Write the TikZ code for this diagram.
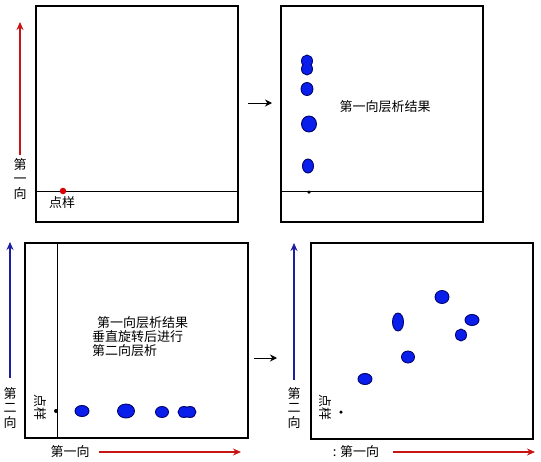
\documentclass[tikz,border=0pt]{standalone}
\usepackage{fontspec}
\setmainfont{Noto Sans CJK SC}
\usetikzlibrary{arrows.meta,shapes.geometric}
\definecolor{axred}{RGB}{200,20,20}
\definecolor{axblue}{RGB}{30,30,160}
\definecolor{blobfill}{RGB}{10,30,235}
\definecolor{blobline}{RGB}{0,0,110}
\tikzset{
  frame/.style={draw=black, line width=2pt},
  thin/.style={draw=black, line width=1pt},
  blob/.style={ellipse, fill=blobfill, draw=blobline, line width=0.9pt, inner sep=0pt},
  blobin/.style={ellipse, fill=blobfill, inner sep=0pt},
  redax/.style={draw=axred, line width=1.2pt, -{Stealth[length=8pt,width=7pt]}},
  blueax/.style={draw=axblue, line width=1.2pt, -{Stealth[length=8pt,width=7pt]}},
  steparrow/.style={draw=black, line width=1pt, -{Stealth[length=7pt,width=7pt]}},
  lbl/.style={inner sep=0pt, font=\fontsize{13}{14}\selectfont},
  vlbl/.style={inner sep=0pt, align=center, font=\fontsize{13}{14.2}\selectfont},
  dot/.style={circle, fill=black, inner sep=0pt, minimum size=4pt},
}
\begin{document}
\begin{tikzpicture}[x=1pt,y=-1pt]
\path[use as bounding box, fill=white] (0,0) rectangle (541,461);
% ---------- panel 1
\node[frame, minimum width=202pt, minimum height=216pt, inner sep=0pt] (p1) at (137,114) {};
\coordinate (l1a) at (36,191);
\coordinate (l1b) at (238,191);
\draw[thin] (l1a) -- (l1b);
\node[circle, fill=red!85!black, inner sep=0pt, minimum size=6.5pt] (s1) at (63,191) {};
\node[lbl] (t1) at (62,203) {点样};
\coordinate (a1s) at (20,155);
\coordinate (a1e) at (20,22);
\draw[redax] (a1s) -- (a1e);
\node[vlbl] (v1) at (20,179) {第\\一\\向};
% arrow 1 -> 2
\coordinate (m1s) at (248,103);
\coordinate (m1e) at (272,103);
\draw[steparrow] (m1s) -- (m1e);
% ---------- panel 2
\node[frame, minimum width=202pt, minimum height=216pt, inner sep=0pt] (p2) at (382,114) {};
\coordinate (l2a) at (281,191);
\coordinate (l2b) at (483,191);
\draw[thin] (l2a) -- (l2b);
\node[dot, minimum size=3.5pt] (s2) at (309,192) {};
\node[blob, minimum width=11pt, minimum height=12pt] (b21a) at (307,61) {};
\node[blob, minimum width=11pt, minimum height=12pt] (b21b) at (307,69) {};
\node[blobin, minimum width=9.5pt, minimum height=10.5pt] (b21c) at (307,61) {};
\node[blob, minimum width=12pt, minimum height=13pt] (b22) at (307,89) {};
\node[blob, minimum width=15pt, minimum height=16pt] (b23) at (309,124) {};
\node[blob, minimum width=11pt, minimum height=14pt] (b24) at (308,166) {};
\node[lbl] (t2) at (385,107) {第一向层析结果};
% ---------- panel 3
\node[frame, minimum width=223pt, minimum height=195pt, inner sep=0pt] (p3) at (136.5,340.5) {};
\coordinate (l3a) at (57,243);
\coordinate (l3b) at (57,438);
\draw[thin] (l3a) -- (l3b);
\node[dot, minimum size=4pt] (s3) at (56,411) {};
\node[lbl, rotate=-90] (r3) at (40,407) {点样};
\node[blob, minimum width=14pt, minimum height=11pt] (b31) at (82,411) {};
\node[blob, minimum width=17pt, minimum height=14pt] (b32) at (126,411) {};
\node[blob, minimum width=13pt, minimum height=11pt] (b33) at (162,412) {};
\node[blob, minimum width=12pt, minimum height=11pt] (b34a) at (184,412) {};
\node[blob, minimum width=12pt, minimum height=11pt] (b34b) at (190,412) {};
\node[blobin, minimum width=10.5pt, minimum height=9.5pt] (b34c) at (184,412) {};
\node[lbl, align=left, anchor=north west] (t3) at (92,316) {\hspace*{5pt}第一向层析结果\\垂直旋转后进行\\第二向层析};
\coordinate (a3s) at (10,378);
\coordinate (a3e) at (10,242);
\draw[blueax] (a3s) -- (a3e);
\node[vlbl] (v3) at (10,408) {第\\二\\向};
\node[lbl] (h3) at (70,452) {第一向};
\coordinate (h3s) at (99,452);
\coordinate (h3e) at (241,452);
\draw[redax] (h3s) -- (h3e);
% arrow 3 -> 4
\coordinate (m3s) at (254,358);
\coordinate (m3e) at (277,358);
\draw[steparrow] (m3s) -- (m3e);
% ---------- panel 4
\node[frame, minimum width=222pt, minimum height=196pt, inner sep=0pt] (p4) at (422,341) {};
\node[dot, minimum size=3.5pt] (s4) at (341,412) {};
\node[lbl, rotate=-90] (r4) at (325,407) {点样};
\node[blob, minimum width=14pt, minimum height=11pt] (b41) at (365,379) {};
\node[blob, minimum width=11pt, minimum height=18pt] (b42) at (398,322) {};
\node[blob, minimum width=13pt, minimum height=12pt] (b43) at (408,357) {};
\node[blob, minimum width=14pt, minimum height=13pt] (b44) at (442,297) {};
\node[blob, minimum width=11pt, minimum height=12pt] (b45) at (461,335) {};
\node[blob, minimum width=14pt, minimum height=11pt] (b46) at (472,320) {};
\coordinate (a4s) at (294,380);
\coordinate (a4e) at (294,243);
\draw[blueax] (a4s) -- (a4e);
\node[vlbl] (v4) at (294,408) {第\\二\\向};
\node[lbl] (h4) at (356,452) {: 第一向};
\coordinate (h4s) at (393,452);
\coordinate (h4e) at (535,452);
\draw[redax] (h4s) -- (h4e);
\end{tikzpicture}
\end{document}
